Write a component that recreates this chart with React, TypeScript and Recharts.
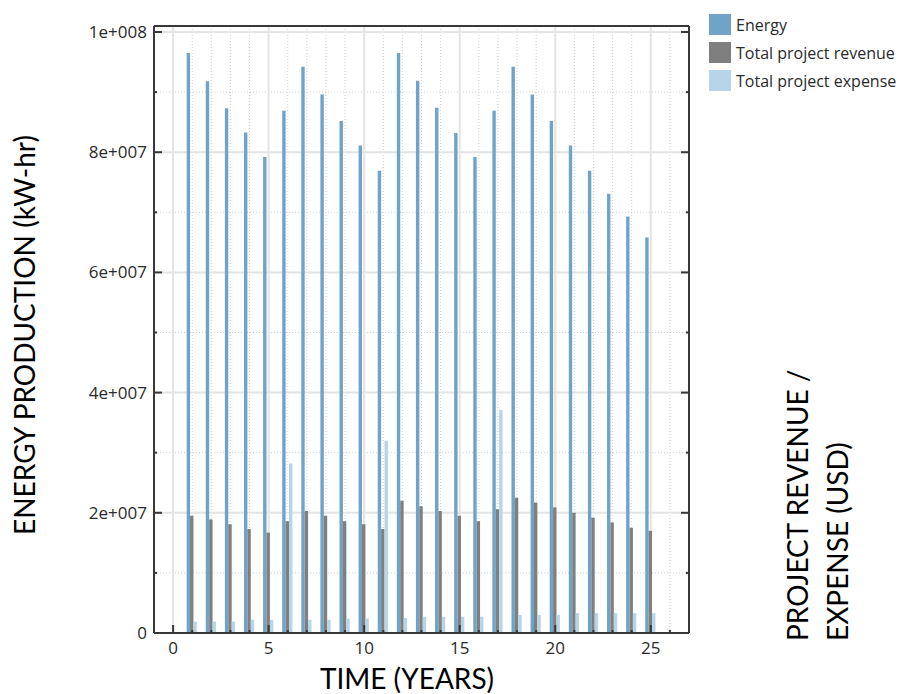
import React from 'react';
import { ComposedChart, Bar, XAxis, YAxis, CartesianGrid, Legend } from 'recharts';

const years = [1, 2, 3, 4, 5, 6, 7, 8, 9, 10, 11, 12, 13, 14, 15, 16, 17, 18, 19, 20, 21, 22, 23, 24, 25];
const energy = [96500000, 91800000, 87300000, 83300000, 79200000, 86900000, 94200000, 89600000, 85200000, 81100000, 76900000, 96500000, 91900000, 87400000, 83200000, 79200000, 86900000, 94200000, 89600000, 85200000, 81100000, 76900000, 73100000, 69300000, 65800000];
const revenue = [19500000, 18900000, 18100000, 17300000, 16700000, 18600000, 20300000, 19500000, 18600000, 18100000, 17300000, 22000000, 21100000, 20300000, 19500000, 18600000, 20600000, 22500000, 21700000, 20900000, 20000000, 19200000, 18400000, 17500000, 17000000];
const expense = [1900000, 1900000, 1900000, 2200000, 2200000, 28200000, 2200000, 2200000, 2400000, 2400000, 32000000, 2500000, 2700000, 2700000, 2700000, 2700000, 37100000, 3000000, 3000000, 3000000, 3300000, 3300000, 3300000, 3300000, 3300000];

const seriesNames = ['Energy', 'Total project revenue', 'Total project expense'];
const seriesColors = ['#6FA3C7', '#7F7F7F', '#B6D5E8'];

const xTicks = [0, 1, 2, 3, 4, 5, 6, 7, 8, 9, 10, 11, 12, 13, 14, 15, 16, 17, 18, 19, 20, 21, 22, 23, 24, 25, 26];
const xMajorTicks = [0, 5, 10, 15, 20, 25];
const xTickLabels = ['0', '5', '10', '15', '20', '25'];
const yTicks = [0, 10000000, 20000000, 30000000, 40000000, 50000000, 60000000, 70000000, 80000000, 90000000, 100000000];
const yMajorTicks = [0, 20000000, 40000000, 60000000, 80000000, 100000000];
const yTickLabels = ['0', '2e+007', '4e+007', '6e+007', '8e+007', '1e+008'];

const xDomain = [-1, 27];
const yDomain = [0, 101000000];

const data = years.map((y, i) => ({ year: y, energy: energy[i], revenue: revenue[i], expense: expense[i] }));

const AXIS = '#383838';
const TICK_FONT = { fontFamily: '"Open Sans", sans-serif', fontSize: 17, fill: '#2a2a2a' };

const BottomTick = (props: any) => {
  const { x, y, payload } = props;
  const idx = xMajorTicks.indexOf(payload.value);
  const major = idx >= 0;
  return (
    <g>
      <line x1={x} x2={x} y1={y} y2={y - (major ? 8 : 3)} stroke={AXIS} strokeWidth={2} />
      {major && (
        <text x={x} y={y + 21} textAnchor="middle" {...TICK_FONT}>{xTickLabels[idx]}</text>
      )}
    </g>
  );
};

const LeftTick = (props: any) => {
  const { x, y, payload } = props;
  const idx = yMajorTicks.indexOf(payload.value);
  const major = idx >= 0;
  return (
    <g>
      <line x1={x} x2={x + (major ? 8 : 3)} y1={y} y2={y} stroke={AXIS} strokeWidth={2} />
      {major && (
        <text x={x - 7} y={y + 6} textAnchor="end" {...TICK_FONT}>{yTickLabels[idx]}</text>
      )}
    </g>
  );
};

const RightTick = (props: any) => {
  const { x, y, payload } = props;
  const major = yMajorTicks.indexOf(payload.value) >= 0;
  return <line x1={x} x2={x - (major ? 8 : 3)} y1={y} y2={y} stroke={AXIS} strokeWidth={2} />;
};

const LegendContent = (props: any) => {
  const { payload } = props;
  const items = [...(payload || [])].sort((a: any, b: any) => seriesNames.indexOf(a.value) - seriesNames.indexOf(b.value));
  return (
    <div style={{ fontFamily: '"Open Sans", sans-serif', fontSize: 16, color: '#2a2a2a', whiteSpace: 'nowrap' }}>
      {items.map((p: any) => (
        <div key={p.value} style={{ display: 'flex', alignItems: 'center', height: 21, marginBottom: 7 }}>
          <span style={{ display: 'inline-block', flexShrink: 0, width: 22, height: 21, background: p.color, marginRight: 5 }} />
          <span style={{ flexShrink: 0 }}>{p.value}</span>
        </div>
      ))}
    </div>
  );
};

export default function App() {
  return (
    <div style={{ position: 'absolute', left: 0, top: 0, width: 899, height: 694, overflow: 'hidden', background: '#fff' }}>
      <ComposedChart
        width={899}
        height={694}
        data={data}
        margin={{ top: 25, right: 209, bottom: 31, left: 94 }}
        barGap={0}
      >
        <XAxis xAxisId="x" dataKey="year" type="number" domain={xDomain} ticks={xTicks} interval={0}
          allowDataOverflow height={30} tickSize={0} tickMargin={0} tick={<BottomTick />}
          axisLine={{ stroke: AXIS, strokeWidth: 2 }} tickLine={false} />
        <XAxis xAxisId="xmaj" dataKey="year" type="number" domain={xDomain} ticks={xMajorTicks} interval={0}
          allowDataOverflow hide />
        <XAxis xAxisId="top" orientation="top" dataKey="year" type="number" domain={xDomain} allowDataOverflow
          height={1} tick={false} tickLine={false} axisLine={{ stroke: AXIS, strokeWidth: 2 }} />
        <YAxis yAxisId="y" type="number" domain={yDomain} ticks={yTicks} interval={0} allowDataOverflow
          width={60} tickSize={0} tickMargin={0} tick={<LeftTick />} tickLine={false}
          axisLine={{ stroke: AXIS, strokeWidth: 2 }} />
        <YAxis yAxisId="ymaj" type="number" domain={yDomain} ticks={yMajorTicks} interval={0} allowDataOverflow hide />
        <YAxis yAxisId="yr" orientation="right" type="number" domain={yDomain} ticks={yTicks} interval={0} allowDataOverflow
          width={1} tickSize={0} tickMargin={0} tick={<RightTick />} tickLine={false}
          axisLine={{ stroke: AXIS, strokeWidth: 2 }} />
        <CartesianGrid xAxisId="x" yAxisId="y" stroke="#cfcfcf" strokeDasharray="1 2" />
        <CartesianGrid xAxisId="xmaj" yAxisId="ymaj" stroke="#e4e4e4" strokeWidth={2} />
        <Legend layout="vertical" align="center" verticalAlign="middle" content={<LegendContent />}
          wrapperStyle={{ left: 709, top: 14, width: 190, height: 90, overflow: 'hidden' }} />
        <Bar xAxisId="x" yAxisId="y" dataKey="energy" name={seriesNames[0]} fill={seriesColors[0]} barSize={3.4} isAnimationActive={false} />
        <Bar xAxisId="x" yAxisId="y" dataKey="revenue" name={seriesNames[1]} fill={seriesColors[1]} barSize={3.4} isAnimationActive={false} />
        <Bar xAxisId="x" yAxisId="y" dataKey="expense" name={seriesNames[2]} fill={seriesColors[2]} barSize={3.4} isAnimationActive={false} />
      </ComposedChart>
      <svg width={899} height={694} style={{ position: 'absolute', left: 0, top: 0, pointerEvents: 'none' }}>
        <g fontFamily="Lato, sans-serif" fill="#000">
          <text x={407} y={689} textAnchor="middle" fontSize={28}>TIME (YEARS)</text>
          <text x={35} y={335} textAnchor="middle" fontSize={28} transform="rotate(-90 35 335)">ENERGY PRODUCTION (kW-hr)</text>
          <text x={808} y={641} textAnchor="start" fontSize={28} transform="rotate(-90 808 641)">PROJECT REVENUE /</text>
          <text x={848} y={641} textAnchor="start" fontSize={28} transform="rotate(-90 848 641)">EXPENSE (USD)</text>
        </g>
      </svg>
    </div>
  );
}
